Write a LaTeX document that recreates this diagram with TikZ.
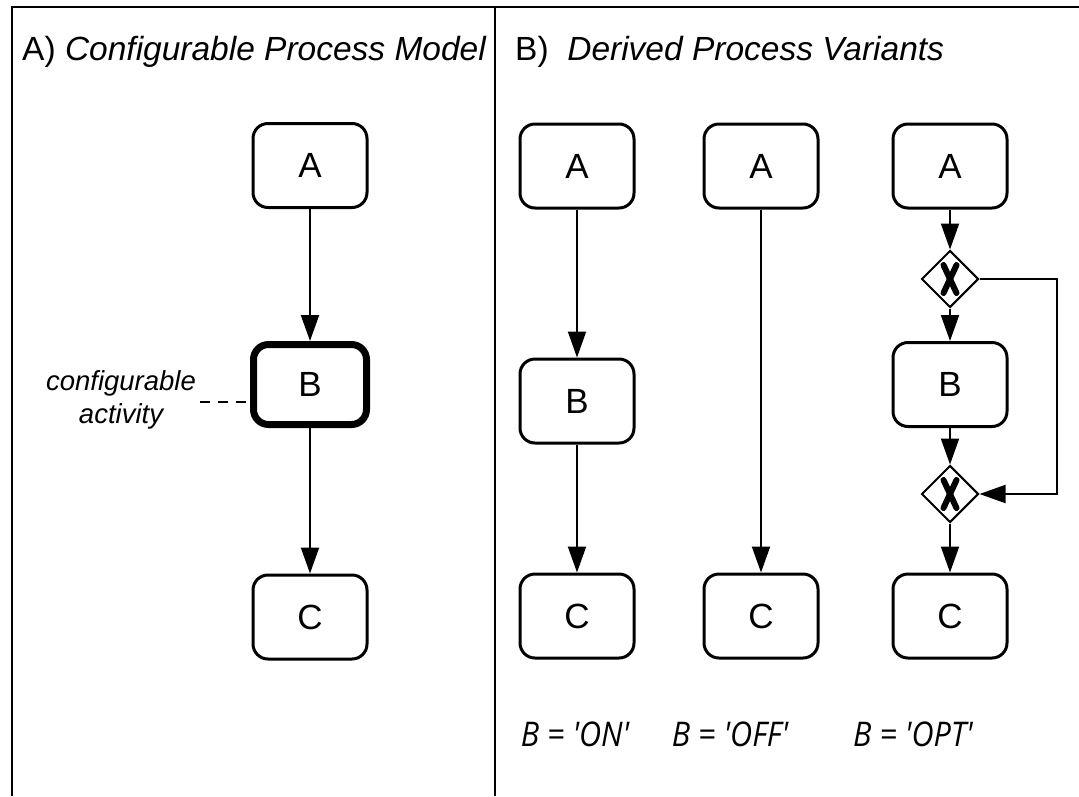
\documentclass[tikz,border=0pt]{standalone}
\usepackage{fontspec}
\setmainfont{Liberation Sans}
\newfontfamily\notefont[FakeStretch=0.9]{Open Sans}
\usetikzlibrary{shapes.geometric,arrows.meta}
\begin{document}
\begin{tikzpicture}[x=1pt,y=-1pt,
  frame/.style={line width=2.5pt},
  task/.style={draw, line width=3pt, rounded corners=15pt,
    minimum width=114pt, minimum height=84pt, inner sep=0pt,
    font=\fontsize{35}{38}\selectfont},
  cfgtask/.style={task, line width=7pt, minimum width=113pt, minimum height=80pt},
  gate/.style={draw, diamond, aspect=1, line width=2pt,
    minimum size=57pt, inner sep=0pt},
  xmark/.style={line width=6pt, line cap=round},
  flow/.style={line width=2pt, -{Triangle[length=26pt,width=18pt]}},
  title/.style={anchor=base west, inner sep=0pt, font=\fontsize{33.5}{36}\selectfont},
  varlabel/.style={anchor=base, inner sep=0pt, font=\notefont\itshape\fontsize{34}{36}\selectfont},
  note/.style={align=center, inner sep=0pt, font=\itshape\fontsize{27.5}{33}\selectfont}
]
\useasboundingbox (0,0) rectangle (1079,796);

% panel frame
\coordinate (tl) at (12,7);
\coordinate (tr) at (1079,7);
\coordinate (bl) at (12,796);
\coordinate (mt) at (495,7);
\coordinate (mb) at (495,796);
\draw[frame] (bl) -- (tl) -- (tr);
\draw[frame] (mt) -- (mb);

% panel titles
\node[title] (ta) at (22,60) {A) \textit{Configurable Process Model}};
\node[title] (tb) at (515,60) {B)\ \ \textit{Derived Process Variants}};

% A) configurable model
\node[task] (a0) at (310,165.5) {A};
\node[cfgtask] (b0) at (310,384.5) {B};
\node[task] (c0) at (310,617) {C};
\draw[flow] (a0) -- (b0);
\draw[flow] (b0) -- (c0);

\node[note] (cfg) at (121,400) {configurable\\activity};
\coordinate (cfgend) at (200,402);
\draw[line width=2pt, dash pattern=on 10pt off 8pt] (cfgend) -- (cfgend -| b0.west);

% B) variant ON
\node[task] (a1) at (577,166) {A};
\node[task] (b1) at (577,401) {B};
\node[task] (c1) at (577,616) {C};
\draw[flow] (a1) -- (b1);
\draw[flow] (b1) -- (c1);

% B) variant OFF
\node[task] (a2) at (761,166) {A};
\node[task] (c2) at (761,616) {C};
\draw[flow] (a2) -- (c2);

% B) variant OPT
\node[task] (a3) at (950,166) {A};
\node[gate] (g1) at (950,279) {};
\node[task] (b3) at (950,384.5) {B};
\node[gate] (g2) at (950,494) {};
\node[task] (c3) at (950,616) {C};
\foreach \g in {g1,g2}{
  \draw[xmark] ([shift={(-6.5,-14)}]\g.center) -- ([shift={(6.5,14)}]\g.center);
  \draw[xmark] ([shift={(6.5,-14)}]\g.center) -- ([shift={(-6.5,14)}]\g.center);
}
\draw[flow] (a3) -- (g1);
\draw[flow] (g1) -- (b3);
\draw[flow] (b3) -- (g2);
\draw[flow] (g2) -- (c3);
\coordinate (rail) at (1057,279);
\draw[flow] (g1.east) -- (rail) |- (g2.east);

% configuration values
\node[varlabel] (v1) at (575,746) {B = 'ON'};
\node[varlabel] (v2) at (730,746) {B = 'OFF'};
\node[varlabel] (v3) at (913,746) {B = 'OPT'};
\end{tikzpicture}
\end{document}
